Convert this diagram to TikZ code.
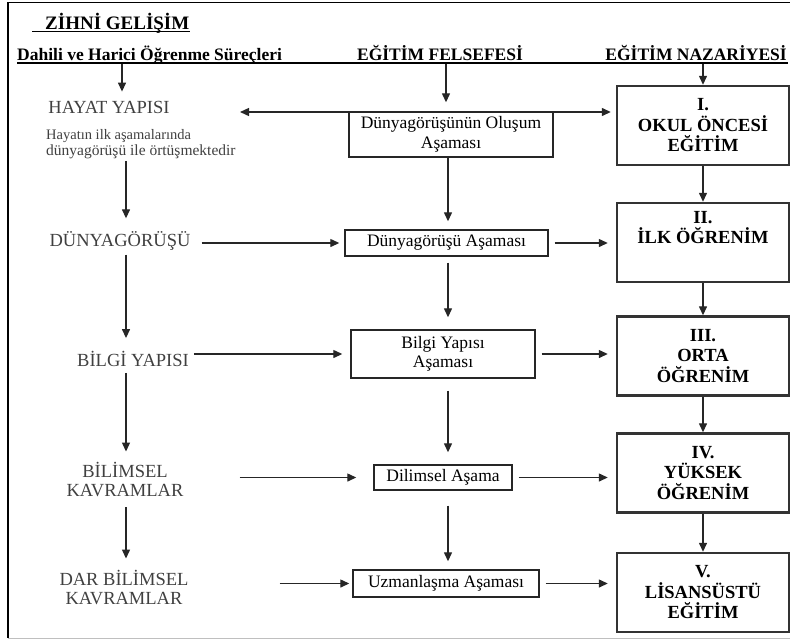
\documentclass[tikz,border=0pt]{standalone}
\usepackage{fontspec}
\setmainfont{Liberation Serif}
\usetikzlibrary{arrows.meta, positioning, calc}
\tikzset{
  concept/.style={text=black!75, align=center, inner sep=1pt,
                  font=\fontsize{18.5}{19}\selectfont},
  stage/.style={rectangle, draw=black!85, line width=1.4pt, align=center,
                inner sep=2pt, font=\fontsize{17.5}{19.5}\selectfont},
  level/.style={rectangle, draw=black!80, line width=2.4pt, align=center,
                minimum width=172pt, minimum height=79pt, inner sep=2pt,
                font=\bfseries\fontsize{18.5}{20.5}\selectfont},
  head/.style={inner sep=0pt, font=\bfseries\fontsize{17.5}{18}\selectfont},
  arr/.style={-{Triangle[length=9pt,width=8pt]}, line width=1.3pt, black!85},
  darr/.style={{Triangle[length=9pt,width=8pt]}-{Triangle[length=9pt,width=8pt]},
               line width=1.3pt, black!85},
}

\begin{document}
\begin{tikzpicture}[x=1pt, y=-1pt]
  \useasboundingbox (0,0) rectangle (790,641);
  %% frame
  \draw[line width=1.3pt] (790,2.5) -- (8,2.5) -- (8,638);
  \draw[black!25] (8,638) -- (790,638);
  %% title and column heads
  \node[head, font=\bfseries\fontsize{19}{20}\selectfont, anchor=base west]
    (zihni) at (45,29) {ZİHNİ GELİŞİM};
  \draw[line width=1.3pt] ([shift={(-13,2.5)}]zihni.base west) -- ([yshift=-2.5pt]zihni.base east);
  \node[head, anchor=base west] (dahili)   at (17,60)  {Dahili ve Harici Öğrenme Süreçleri};
  \node[head, anchor=base]      (felsefe)  at (440,60) {EĞİTİM FELSEFESİ};
  \node[head, anchor=base east] (nazariye) at (787,60) {EĞİTİM NAZARİYESİ};
  \coordinate (hl) at (17,63);
  \coordinate (hr) at (788,63);
  \draw[line width=1.3pt] (hl) -- (hr);
  \coordinate (lh) at (122,64);
  \coordinate (mh) at (446,64);
  \coordinate (rh) at (703,64);
  \coordinate (lc) at (126,0);
  \coordinate (mc) at (448,0);
  \coordinate (hy) at (240,112);

  %% left column
  \node[concept] (hayat) at (109,107) {HAYAT YAPISI};
  \node[concept, anchor=west, align=left, font=\fontsize{14.5}{16}\selectfont]
    (not) at (45,144) {Hayatın ilk aşamalarında\\{\fontsize{15.5}{16}\selectfont dünyagörüşü ile örtüşmektedir}};
  \node[concept] (dunya)    at (120,241) {DÜNYAGÖRÜŞÜ};
  \node[concept] (bilgi)    at (133,359) {BİLGİ YAPISI};
  \node[concept] (bilimsel) at (125,479) {BİLİMSEL\\KAVRAMLAR};
  \node[concept] (dar)      at (124,587) {DAR BİLİMSEL\\KAVRAMLAR};
  \draw[arr, shorten >=8pt] (lh) -- (lh |- hayat.north);
  \foreach \a/\b/\s/\e in {not/dunya/1/12, dunya/bilgi/3/12, bilgi/bilimsel/5/9, bilimsel/dar/10/10}
    \draw[arr, shorten <=\s pt, shorten >=\e pt] (\a.south -| lc) -- (\b.north -| lc);

  %% middle column
  \node[stage, minimum width=204pt, minimum height=45pt] (olusum)   at (451,134.5) {Dünyagörüşünün Oluşum\\Aşaması};
  \node[stage, minimum width=203pt, minimum height=26pt] (dasama)   at (446.5,243) {Dünyagörüşü Aşaması};
  \node[stage, minimum width=184pt, minimum height=48pt] (basama)   at (443,354)   {Bilgi Yapısı\\Aşaması};
  \node[stage, minimum width=138pt, minimum height=25pt] (bilasama) at (443,477.5) {Dilimsel Aşama};
  \node[stage, minimum width=186pt, minimum height=27pt] (uzman)    at (446,583.5) {Uzmanlaşma Aşaması};
  \draw[arr, shorten >=9pt] (mh) -- (mh |- olusum.north);
  \foreach \a/\b/\s/\e in {olusum/dasama/0/8, dasama/basama/6/12, basama/bilasama/12/12, bilasama/uzman/15/8}
    \draw[arr, shorten <=\s pt, shorten >=\e pt] (\a.south -| mc) -- (\b.north -| mc);
  \foreach \a/\b/\s/\e in {dunya/dasama/10/5, bilgi/basama/4/8, bilimsel/bilasama/55/17, dar/uzman/90/3}
    \draw[arr, shorten <=\s pt, shorten >=\e pt] (\a.east |- \b) -- (\b.west);

  %% right column
  \node[level] (okul)   at (703,125.5) {I.\\OKUL ÖNCESİ\\EĞİTİM};
  \node[level] (ilk)    at (703,242.5) {II.\\İLK ÖĞRENİM\\[10pt]~};
  \node[level] (orta)   at (703,356)   {III.\\ORTA\\ÖĞRENİM};
  \node[level] (yuksek) at (703,473)   {IV.\\YÜKSEK\\ÖĞRENİM};
  \node[level] (lisans) at (703,592.5) {V.\\LİSANSÜSTÜ\\EĞİTİM};
  \draw[arr] (rh) -- (okul);
  \foreach \a/\b in {okul/ilk, ilk/orta, orta/yuksek, yuksek/lisans}
    \draw[arr] (\a) -- (\b);
  \foreach \a/\b in {dasama/ilk, basama/orta, bilasama/yuksek, uzman/lisans}
    \draw[arr, shorten <=6pt, shorten >=8pt] (\a.east) -- (\a.east -| \b.west);
  \draw[darr, shorten >=5pt] (hy) -- (hy -| okul.west);
\end{tikzpicture}
\end{document}
